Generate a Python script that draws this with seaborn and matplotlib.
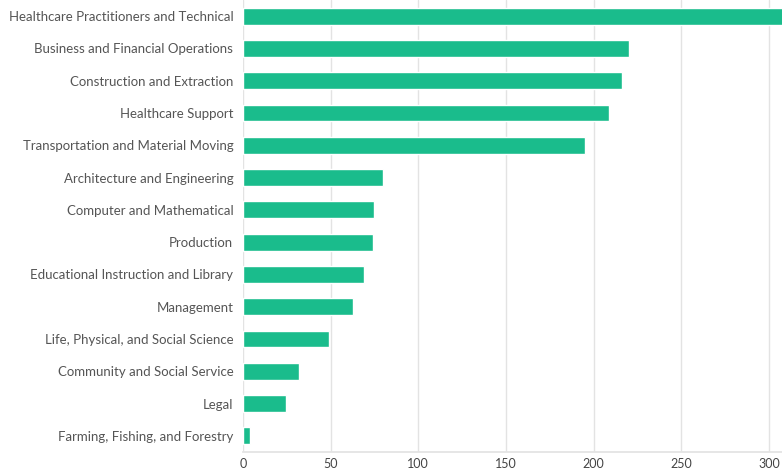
import numpy as np
import pandas as pd
import seaborn as sns
import matplotlib.pyplot as plt

# Dados
categories = [
    "Healthcare Practitioners and Technical",
    "Business and Financial Operations",
    "Construction and Extraction",
    "Healthcare Support",
    "Transportation and Material Moving",
    "Architecture and Engineering",
    "Computer and Mathematical",
    "Production",
    "Educational Instruction and Library",
    "Management",
    "Life, Physical, and Social Science",
    "Community and Social Service",
    "Legal",
    "Farming, Fishing, and Forestry",
]
values = [330, 220, 216, 209, 195, 80, 75, 74, 69, 63, 49, 32, 24.5, 4]
xticks = [0, 50, 100, 150, 200, 250, 300]

df = pd.DataFrame({"category": categories, "value": values})

sns.set_theme(style="white")
plt.rcParams["font.family"] = ["Lato", "DejaVu Sans"]

fig = plt.figure(figsize=(7.82, 4.71), dpi=100)
ax = fig.add_axes([243 / 782, 19 / 471, 1 - 243 / 782, 452 / 471])

sns.barplot(data=df, x="value", y="category", color="#1abc8c", saturation=1,
            width=0.52, ax=ax, zorder=3)

ax.set_xlim(0, 307.5)
ax.set_ylim(13.5, -0.5)
ax.set_xticks(xticks)
ax.grid(axis="x", color="#e3e3e3", linewidth=1, zorder=0)
ax.set_xlabel("")
ax.set_ylabel("")
for s in ["top", "right", "left"]:
    ax.spines[s].set_visible(False)
ax.spines["bottom"].set_color("#e3e3e3")
ax.tick_params(axis="y", length=0, pad=7, labelsize=9.5, labelcolor="#555555")
ax.tick_params(axis="x", length=0, pad=4, labelsize=9, labelcolor="#444444")

fig.savefig("out.png", dpi=100)
